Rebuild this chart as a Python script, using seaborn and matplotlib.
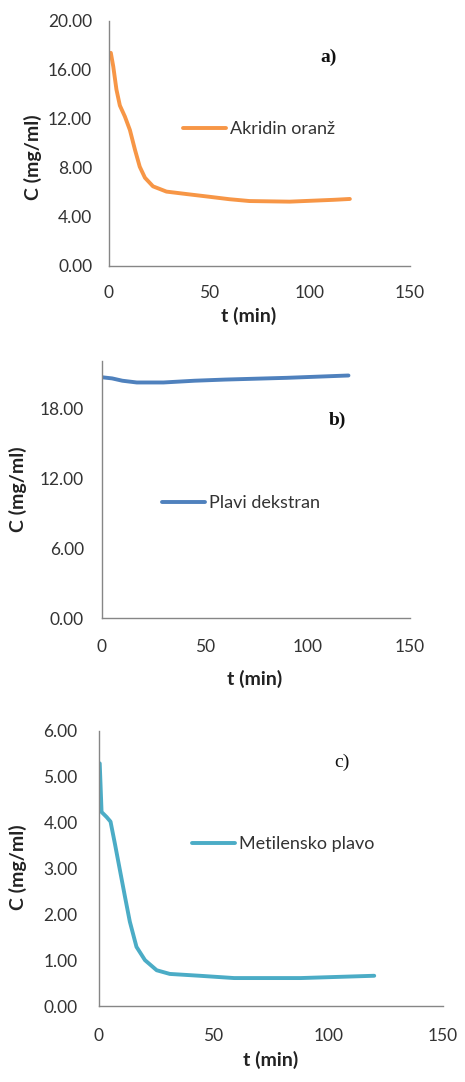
import numpy as np
import pandas as pd
import matplotlib
matplotlib.use("Agg")
import matplotlib.pyplot as plt
import seaborn as sns

# a) Akridin oranž
t_a = [1, 2.2, 3.8, 5.5, 8, 10.5, 13, 15.4, 18, 22, 28.7, 38.7, 50, 60, 70, 90, 112, 120]
c_a = [17.4, 16.3, 14.4, 13.1, 12.2, 11.1, 9.5, 8.1, 7.2, 6.5, 6.07, 5.87, 5.65, 5.45, 5.3, 5.25, 5.4, 5.47]

# b) Plavi dekstran
t_b = [0, 5, 10, 17, 30, 45, 60, 90, 120]
c_b = [20.7, 20.6, 20.4, 20.25, 20.25, 20.4, 20.5, 20.65, 20.85]

# c) Metilensko plavo
t_c = [0.5, 1.3, 3.5, 5.2, 7.1, 9.3, 11.5, 13.6, 16.5, 20.2, 25.3, 31, 44, 59, 88, 120]
c_c = [5.29, 4.23, 4.12, 4.02, 3.54, 2.96, 2.38, 1.84, 1.29, 1.0, 0.78, 0.70, 0.66, 0.61, 0.61, 0.66]

x_ticks = [0, 50, 100, 150]

sns.set_style("white")
plt.rcParams['font.family'] = ['Lato', 'DejaVu Sans']

fig = plt.figure(figsize=(4.65, 10.82), dpi=100)

panels = [
    dict(t=t_a, c=c_a, name="Akridin oranž", color="#F79646", tag="a)", bold_tag=True,
         pos=[0.234, 0.7542, 0.648, 0.2264], ylim=(0, 20), yticks=np.arange(0, 21, 4),
         leg=(0.246, 0.559), tagpos=(0.728, 0.853), ylab=(-0.223, 0.445), xlab=(0.465, -0.167),
         ypad=12, xpad=14),
    dict(t=t_b, c=c_b, name="Plavi dekstran", color="#4F81BD", tag="b)", bold_tag=True,
         pos=[0.219, 0.4288, 0.663, 0.2376], ylim=(0, 22.1), yticks=np.arange(0, 19, 6),
         leg=(0.195, 0.447), tagpos=(0.763, 0.770), ylab=(-0.244, 0.5), xlab=(0.497, -0.202),
         ypad=13, xpad=15),
    dict(t=t_c, c=c_c, name="Metilensko plavo", color="#4BACC6", tag="c)", bold_tag=False,
         pos=[0.212, 0.0702, 0.741, 0.2544], ylim=(0, 6), yticks=np.arange(0, 7, 1),
         leg=(0.271, 0.589), tagpos=(0.707, 0.884), ylab=(-0.208, 0.505), xlab=(0.498, -0.164),
         ypad=15, xpad=16),
]

for p in panels:
    ax = fig.add_axes(p["pos"])
    df = pd.DataFrame({"t": p["t"], "C": p["c"]})
    sns.lineplot(data=df, x="t", y="C", ax=ax, color=p["color"], lw=2.8,
                 label=p["name"], solid_capstyle="round", solid_joinstyle="round")
    ax.set_xlim(0, 150)
    ax.set_ylim(*p["ylim"])
    ax.set_xticks(x_ticks)
    ax.set_yticks(p["yticks"])
    ax.set_yticklabels([f"{v:.2f}" for v in p["yticks"]])
    ax.tick_params(axis="both", length=0, labelsize=12.5, colors="#333333")
    ax.tick_params(axis="y", pad=p["ypad"])
    ax.tick_params(axis="x", pad=p["xpad"])
    for s in ["top", "right"]:
        ax.spines[s].set_visible(False)
    for s in ["left", "bottom"]:
        ax.spines[s].set_color("#868686")
        ax.spines[s].set_linewidth(1.0)
    ax.set_xlabel("t (min)", fontsize=14, fontweight="bold", color="#222222")
    ax.set_ylabel("C (mg/ml)", fontsize=14, fontweight="bold", color="#222222")
    ax.xaxis.set_label_coords(*p["xlab"])
    ax.yaxis.set_label_coords(*p["ylab"])
    ax.legend(loc="center left", bbox_to_anchor=p["leg"], frameon=False,
              fontsize=13, handlelength=2.4, handletextpad=0.2, borderpad=0,
              borderaxespad=0, labelcolor="#333333")
    ax.text(*p["tagpos"], p["tag"], transform=ax.transAxes, fontsize=14,
            family="Liberation Serif", fontweight="bold" if p["bold_tag"] else "normal",
            ha="center", va="center", color="#111111")

fig.savefig("out.png", dpi=100)
